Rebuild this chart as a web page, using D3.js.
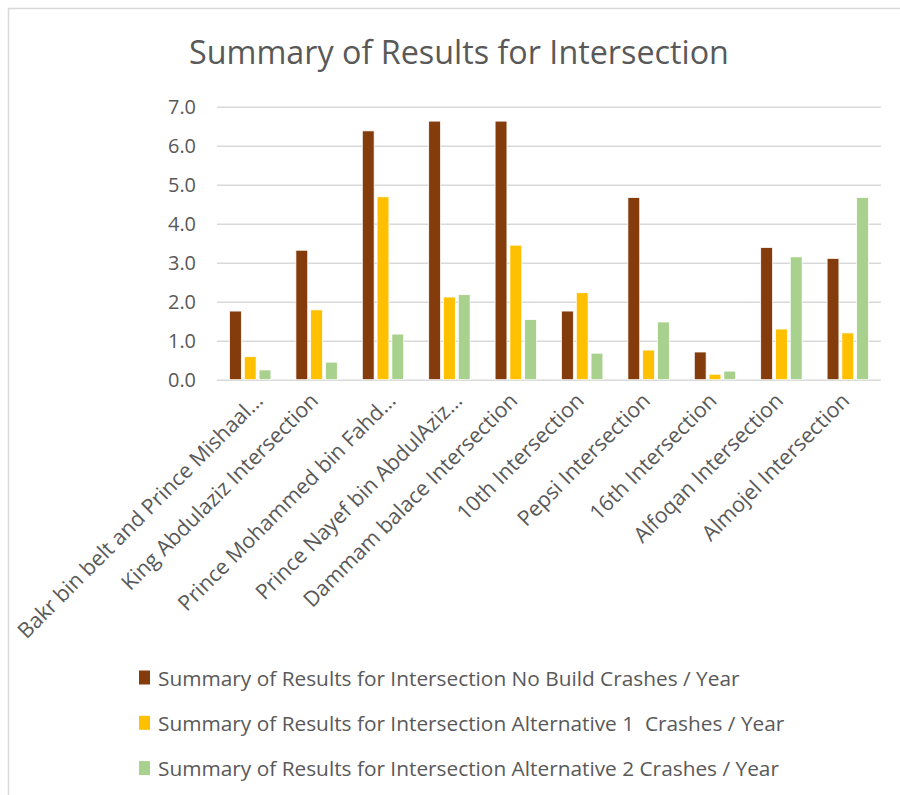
<!DOCTYPE html>
<html><head><meta charset="utf-8">
<script src="https://cdn.jsdelivr.net/npm/d3@7"></script>
<style>body{margin:0;background:#fff}text{font-family:"Open Sans",sans-serif;fill:#595959}</style>
</head><body><svg id="c" width="900" height="795"></svg>
<script>
const categories = ["Bakr bin belt and Prince Mishaal…","King Abdulaziz Intersection","Prince Mohammed bin Fahd…","Prince Nayef bin AbdulAziz…","Dammam balace Intersection","10th Intersection","Pepsi Intersection","16th Intersection","Alfoqan Intersection","Almojel Intersection"];
const noBuild = [1.76,3.32,6.38,6.63,6.63,1.76,4.67,0.71,3.39,3.11];
const alt1 = [0.59,1.79,4.69,2.12,3.45,2.23,0.76,0.14,1.30,1.20];
const alt2 = [0.25,0.45,1.17,2.18,1.54,0.68,1.48,0.22,3.15,4.67];
const seriesNames = ["Summary of Results for Intersection No Build Crashes / Year","Summary of Results for Intersection Alternative 1  Crashes / Year","Summary of Results for Intersection Alternative 2 Crashes / Year"];
const colors = ["#843C0C","#FFC000","#A9D18E"];
const yTicks = [0,1,2,3,4,5,6,7];
const title = "Summary of Results for Intersection";

const svg = d3.select("#c");
svg.append("rect").attr("x",8.5).attr("y",8.5).attr("width",1200).attr("height",1200).attr("fill","#fff").attr("stroke","#d9d9d9").attr("stroke-width",1.5);

function fit(str, target, base){
  const t = svg.append("text").style("font-size",base+"px").style("white-space","pre").text(str);
  const w = t.node().getComputedTextLength(); t.remove();
  return base*target/w;
}
const titleSize = fit(title,540,30);
const legendSize = fit(seriesNames[0],582,20);
const xLabSize = fit("King Abdulaziz Intersection",268,18);
const yLabSize = fit("7.0",28,18);

const pLeft=217, pRight=881, pTop=106.7, pBottom=379.7;
const y = d3.scaleLinear().domain([0,7]).range([pBottom,pTop]);
const x0 = d3.scaleBand().domain(categories).range([pLeft,pRight]).padding(0);
const x1 = d3.scaleBand().domain([0,1,2]).range([0,41.4]).paddingInner(0.2);
const off = (x0.bandwidth()-41.4)/2;

svg.append("text").attr("x",459).attr("y",64).attr("text-anchor","middle").style("font-size",titleSize+"px").text(title);

const yAxis = d3.axisLeft(y).tickValues(yTicks).tickFormat(d3.format(".1f")).tickSize(-(pRight-pLeft)).tickPadding(21);
const gy = svg.append("g").attr("transform",`translate(${pLeft},0)`).call(yAxis);
gy.select(".domain").remove();
gy.selectAll(".tick line").attr("stroke","#d9d9d9").attr("stroke-width",1.5);
gy.selectAll(".tick text").style("font-size",yLabSize+"px").attr("fill","#595959");

const series = [noBuild, alt1, alt2];
series.forEach((vals,si)=>{
  svg.append("g").selectAll("rect").data(vals).join("rect")
    .attr("x",(d,i)=>x0(categories[i])+off+x1(si))
    .attr("width",x1.bandwidth())
    .attr("y",d=>y(d)).attr("height",d=>y(0)-y(d))
    .attr("fill",colors[si]).attr("stroke","#fff").attr("stroke-width",0.75);
});

svg.append("g").selectAll("text").data(categories).join("text")
  .attr("text-anchor","end")
  .attr("transform",d=>{const cx=x0(d)+x0.bandwidth()/2+(d.endsWith("…")?14:3);return `translate(${cx},402) rotate(-45)`;})
  .style("font-size",xLabSize+"px").text(d=>d);

const lg = svg.append("g");
seriesNames.forEach((n,i)=>{
  const cy = 677.5 + i*45.3;
  lg.append("rect").attr("x",139).attr("y",cy-7).attr("width",11).attr("height",14).attr("fill",colors[i]);
  lg.append("text").attr("x",158).attr("y",cy).attr("dominant-baseline","central").style("white-space","pre").style("font-size",legendSize+"px").text(n);
});
</script></body></html>
